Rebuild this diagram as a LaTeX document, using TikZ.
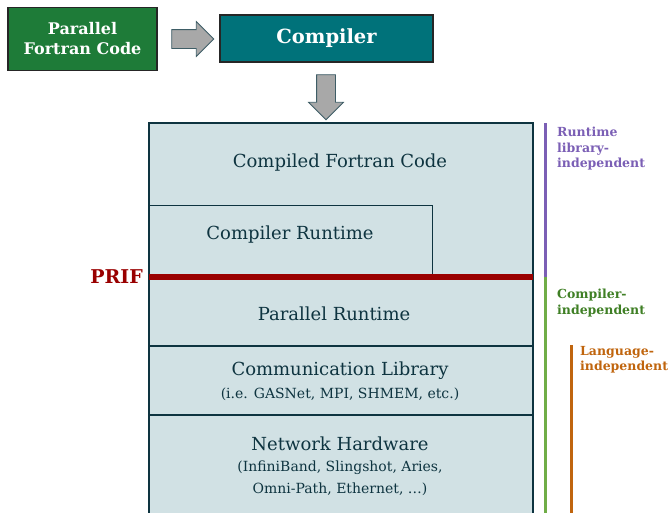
\documentclass[tikz,border=0pt]{standalone}
\usepackage{fontspec}
\setmainfont{DejaVu Serif}
\usetikzlibrary{shapes.arrows}
\definecolor{codegreen}{HTML}{1E7B38}
\definecolor{compteal}{HTML}{00727A}
\definecolor{stackfill}{HTML}{D1E1E4}
\definecolor{stackline}{HTML}{0E3440}
\definecolor{prifred}{HTML}{990000}
\definecolor{rtpurple}{HTML}{7B5FB5}
\definecolor{cigreen}{HTML}{3F7F25}
\definecolor{cibar}{HTML}{70AD47}
\definecolor{liorange}{HTML}{C0650E}
\definecolor{arrowgray}{HTML}{A8A8A8}
\tikzstyle{headbox}=[draw=black!85, line width=1.4pt, text=white, font=\bfseries, align=center, inner sep=0]
\tikzstyle{blockarrow}=[single arrow, draw=stackline!80, fill=arrowgray, line width=0.8pt,
                        single arrow head extend=8pt, inner xsep=0, inner ysep=9pt, minimum height=42pt]
\tikzstyle{layer}=[text=stackline, align=center, inner sep=0, font=\fontsize{18}{21}\selectfont]
\tikzstyle{layersub}=[layer, font=\fontsize{14}{22}\selectfont]
\tikzstyle{sidelabel}=[anchor=north west, align=left, inner sep=0, font=\bfseries\fontsize{12.5}{15.5}\selectfont]
\begin{document}
\begin{tikzpicture}[x=1pt, y=-1pt]
    \useasboundingbox (0, 0) rectangle (670, 512);
    \clip (0, 0) rectangle (670, 512);
    % top row
    \node[headbox, fill=codegreen, minimum width=149pt, minimum height=63pt,
          font=\bfseries\fontsize{16}{20}\selectfont] (src) at (82.5, 39) {Parallel\\Fortran Code};
    \node[headbox, fill=compteal, minimum width=213pt, minimum height=47pt,
          font=\bfseries\fontsize{19.5}{22}\selectfont] (comp) at (326.5, 38.5) {Compiler};
    \node[blockarrow] (a1) at (188, 39) {};
    \node[blockarrow, rotate=-90, minimum height=45pt] (a2) at (326, 92.5) {};
    % stack
    \fill[stackfill] (149, 123) rectangle (533, 530);
    \draw[stackline, line width=0.9pt] (149, 205) -- (432, 205) -- (432, 276);
    \draw[stackline, line width=1.2pt] (149, 346) -- (533, 346);
    \draw[stackline, line width=1.2pt] (149, 415) -- (533, 415);
    \draw[stackline, line width=2.6pt] (149, 530) -- (149, 123) -- (533, 123) -- (533, 530);
    \draw[prifred, line width=6pt] (149, 277) -- (533, 277);
    \node[font=\bfseries\fontsize{19}{22}\selectfont, text=prifred, anchor=east, inner sep=0] (prif) at (143, 277) {PRIF};
    \node[layer] (cfc) at (340, 163) {Compiled Fortran Code};
    \node[layer] (crt) at (290, 235) {Compiler Runtime};
    \node[layer] (prt) at (334, 314) {Parallel Runtime};
    \node[layer] (cl) at (340, 371) {Communication Library};
    \node[layersub] (clsub) at (340, 394) {(i.e. GASNet, MPI, SHMEM, etc.)};
    \node[layer] (nh) at (340, 444) {Network Hardware};
    \node[layersub] (nhsub) at (340, 478) {(InfiniBand, Slingshot, Aries,\\Omni-Path, Ethernet, \dots)};
    % independence bars
    \draw[rtpurple, line width=3pt] (545.5, 123) -- (545.5, 277);
    \draw[cibar, line width=3pt] (545.5, 277) -- (545.5, 530);
    \draw[liorange, line width=3pt] (571, 345) -- (571, 530);
    \node[sidelabel, text=rtpurple] (rtl) at (557, 127) {Runtime\\library-\\independent};
    \node[sidelabel, text=cigreen] (cil) at (557, 289) {Compiler-\\independent};
    \node[sidelabel, text=liorange] (lil) at (580, 346) {Language-\\independent};
\end{tikzpicture}
\end{document}
